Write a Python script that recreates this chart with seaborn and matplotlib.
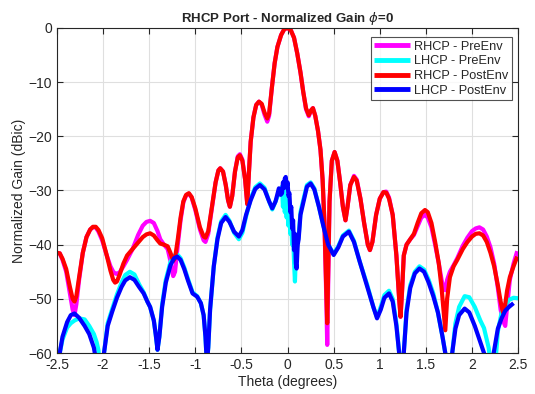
import numpy as np
import pandas as pd
import matplotlib
matplotlib.use("Agg")
import matplotlib.pyplot as plt
import seaborn as sns

# RHCP cuts (pre / post environment)
theta_rhcp = [-2.50, -2.47, -2.44, -2.40, -2.36, -2.33, -2.31, -2.29, -2.26, -2.22,
              -2.18, -2.14, -2.11, -2.08, -2.05, -2.01, -1.96, -1.92, -1.89, -1.87,
              -1.85, -1.82, -1.78, -1.74, -1.68, -1.62, -1.57, -1.53, -1.49, -1.45,
              -1.41, -1.38, -1.34, -1.30, -1.27, -1.24, -1.22, -1.19, -1.16, -1.13,
              -1.10, -1.07, -1.04, -1.00, -0.95, -0.91, -0.89, -0.86, -0.82, -0.78,
              -0.75, -0.73, -0.70, -0.67, -0.645, -0.625, -0.60, -0.57, -0.54, -0.517,
              -0.49, -0.46, -0.437, -0.42, -0.40, -0.37, -0.34, -0.31, -0.28, -0.25,
              -0.22, -0.20, -0.17, -0.14, -0.11, -0.07, -0.035, 0.00, 0.035, 0.07,
              0.105, 0.14, 0.17, 0.20, 0.23, 0.255, 0.275, 0.30, 0.33, 0.357,
              0.38, 0.40, 0.42, 0.43, 0.44, 0.455, 0.48, 0.51, 0.54, 0.57,
              0.60, 0.628, 0.65, 0.68, 0.72, 0.75, 0.79, 0.83, 0.87, 0.893,
              0.92, 0.96, 1.00, 1.04, 1.07, 1.10, 1.14, 1.18, 1.21, 1.225,
              1.24, 1.26, 1.29, 1.33, 1.37, 1.41, 1.45, 1.49, 1.52, 1.56,
              1.60, 1.64, 1.67, 1.69, 1.71, 1.73, 1.76, 1.80, 1.84, 1.90,
              1.95, 2.00, 2.04, 2.08, 2.12, 2.16, 2.20, 2.24, 2.28, 2.31,
              2.335, 2.36, 2.38, 2.41, 2.45, 2.49]
rhcp_post = [-41.5, -41.6, -42.6, -44.5, -47.8, -50.0, -50.5, -49.5, -46.0, -41.5,
             -38.6, -37.2, -36.7, -36.7, -37.3, -38.8, -42.0, -44.8, -46.5, -47.0,
             -46.8, -45.5, -43.5, -42.0, -40.8, -39.6, -38.6, -38.1, -37.9, -38.3,
             -39.2, -39.8, -40.0, -40.3, -41.5, -43.0, -42.5, -39.0, -35.0, -32.0,
             -30.8, -30.5, -31.2, -33.3, -36.8, -38.5, -38.7, -37.5, -33.0, -28.5,
             -26.3, -25.9, -26.5, -29.0, -31.8, -33.0, -31.0, -26.5, -23.9, -23.5,
             -24.5, -28.0, -32.5, -27.0, -21.0, -16.5, -14.2, -13.6, -14.0, -15.6,
             -16.7, -15.8, -11.0, -6.5, -3.5, -1.3, -0.2, 0.0, -0.4, -1.8,
             -4.7, -8.2, -11.8, -14.8, -16.1, -15.2, -14.8, -16.2, -19.0, -22.5,
             -28.0, -36.0, -48.0, -54.5, -45.0, -32.0, -24.5, -22.9, -24.5, -28.5,
             -33.0, -35.5, -33.0, -29.0, -27.5, -28.2, -31.5, -36.0, -40.0, -41.0,
             -39.5, -34.5, -31.5, -30.3, -30.4, -31.5, -34.5, -42.0, -50.0, -53.3,
             -49.0, -42.0, -40.0, -39.0, -38.0, -36.0, -34.2, -33.6, -34.0, -36.0,
             -39.5, -43.5, -48.0, -52.0, -55.8, -50.0, -46.0, -44.0, -42.8, -40.8,
             -39.5, -38.5, -38.0, -37.9, -38.3, -39.5, -41.5, -44.0, -47.5, -50.5,
             -52.5, -51.0, -48.5, -46.0, -44.0, -42.2]
rhcp_pre = [-41.5, -41.6, -42.8, -45.0, -49.0, -52.0, -53.0, -51.0, -46.5, -41.5,
            -38.6, -37.2, -36.8, -36.8, -37.6, -39.2, -42.0, -44.0, -45.0, -45.3,
            -45.4, -45.1, -44.0, -42.8, -40.8, -38.2, -36.5, -35.8, -35.6, -36.0,
            -37.5, -39.0, -40.0, -40.8, -43.0, -45.8, -45.0, -40.0, -35.5, -32.2,
            -30.9, -30.6, -31.3, -33.6, -37.2, -39.2, -39.5, -38.0, -33.3, -28.5,
            -26.3, -25.9, -26.5, -29.0, -31.8, -33.0, -31.0, -26.5, -23.7, -23.3,
            -24.3, -28.0, -32.5, -27.0, -21.0, -16.5, -14.2, -13.6, -14.2, -16.0,
            -17.3, -16.2, -11.0, -6.5, -3.5, -1.3, -0.2, 0.0, -0.4, -1.8,
            -4.7, -8.2, -11.8, -15.0, -16.3, -15.2, -14.8, -16.2, -19.0, -22.5,
            -28.0, -36.0, -50.0, -58.5, -48.0, -32.0, -24.5, -22.9, -24.5, -28.5,
            -33.0, -35.5, -33.0, -29.0, -27.3, -28.0, -31.5, -36.0, -40.0, -41.0,
            -39.5, -34.5, -31.5, -30.3, -30.2, -31.3, -34.5, -42.0, -50.0, -53.3,
            -49.0, -42.0, -40.0, -39.0, -38.2, -36.6, -35.0, -34.5, -35.0, -36.8,
            -40.0, -43.5, -46.5, -48.0, -48.4, -46.5, -45.0, -43.8, -42.5, -40.2,
            -38.7, -37.5, -37.0, -36.8, -37.2, -38.5, -40.5, -43.5, -48.0, -52.0,
            -54.0, -55.0, -51.5, -46.5, -43.5, -41.2]

# LHCP cuts (pre / post environment)
theta_lhcp = [-2.50, -2.47, -2.44, -2.39, -2.35, -2.31, -2.26, -2.20, -2.15, -2.10,
              -2.07, -2.05, -2.02, -1.99, -1.95, -1.90, -1.85, -1.80, -1.76, -1.71,
              -1.66, -1.61, -1.56, -1.52, -1.49, -1.45, -1.43, -1.41, -1.39, -1.36,
              -1.32, -1.27, -1.23, -1.195, -1.16, -1.12, -1.08, -1.03, -0.98, -0.94,
              -0.91, -0.89, -0.875, -0.86, -0.84, -0.80, -0.76, -0.72, -0.672, -0.63,
              -0.58, -0.528, -0.49, -0.45, -0.40, -0.35, -0.30, -0.25, -0.20, -0.166,
              -0.13, -0.094, -0.075, -0.06, -0.05, -0.04, -0.03, -0.02, -0.01, 0.00,
              0.01, 0.02, 0.03, 0.04, 0.05, 0.06, 0.07, 0.08, 0.09, 0.098,
              0.11, 0.12, 0.14, 0.16, 0.21, 0.25, 0.29, 0.34, 0.39, 0.44,
              0.50, 0.55, 0.60, 0.665, 0.72, 0.78, 0.865, 0.93, 0.97, 1.01,
              1.05, 1.10, 1.14, 1.18, 1.21, 1.235, 1.26, 1.29, 1.33, 1.38,
              1.43, 1.48, 1.53, 1.58, 1.63, 1.68, 1.71, 1.75, 1.785, 1.82,
              1.86, 1.92, 1.97, 2.03, 2.09, 2.13, 2.18, 2.235, 2.28, 2.32,
              2.36, 2.40, 2.45, 2.50]
lhcp_post = [-66.0, -60.0, -57.0, -54.3, -53.0, -52.7, -53.5, -55.0, -56.5, -59.0,
             -62.0, -66.0, -68.0, -60.0, -55.0, -52.3, -49.8, -47.8, -46.6, -46.0,
             -46.5, -47.8, -49.0, -50.5, -51.5, -54.0, -56.5, -59.4, -57.0, -51.5,
             -47.0, -43.8, -42.5, -42.2, -42.8, -44.5, -46.6, -49.0, -49.6, -50.8,
             -53.0, -57.0, -62.0, -59.0, -52.0, -44.0, -39.0, -36.0, -34.9, -35.8,
             -37.6, -38.5, -37.3, -34.5, -31.8, -29.7, -29.0, -29.8, -32.0, -33.3,
             -32.0, -29.6, -30.8, -30.5, -28.5, -29.5, -27.8, -27.5, -29.5, -28.5,
             -31.0, -30.5, -34.0, -33.0, -37.0, -35.5, -41.0, -38.0, -43.5, -44.4,
             -40.0, -39.0, -34.5, -33.0, -29.3, -28.7, -29.8, -33.0, -36.7, -40.0,
             -41.9, -40.5, -38.5, -37.6, -39.5, -43.0, -47.8, -51.5, -53.6, -52.0,
             -49.8, -49.0, -50.5, -55.0, -60.0, -66.0, -60.0, -52.5, -48.0, -45.3,
             -44.4, -45.0, -47.0, -49.5, -52.5, -57.0, -60.0, -66.0, -60.0, -55.5,
             -53.0, -51.8, -52.5, -55.0, -58.0, -60.0, -66.0, -60.0, -55.5, -53.6,
             -52.2, -51.5, -50.8, np.nan]
lhcp_pre = [-66.0, -60.0, -57.5, -55.3, -54.5, -54.0, -53.6, -53.8, -55.0, -56.5,
            -58.0, -59.5, -66.0, -60.0, -54.5, -51.8, -49.2, -47.0, -45.6, -45.0,
            -45.5, -47.3, -48.8, -50.5, -51.5, -54.0, -56.5, -59.4, -57.0, -51.0,
            -46.5, -43.2, -42.0, -41.8, -42.5, -44.2, -46.3, -48.8, -49.5, -50.8,
            -53.0, -57.0, -62.0, -59.0, -52.0, -44.0, -38.7, -35.7, -34.5, -35.6,
            -37.8, -39.0, -37.8, -34.8, -31.5, -29.4, -28.7, -29.5, -32.0, -33.5,
            -32.0, -30.5, -30.0, -29.3, -33.0, -30.0, -34.0, -31.0, -35.0, -32.0,
            -36.5, -34.0, -38.0, -36.0, -40.0, -38.0, -43.0, -46.8, -42.0, -41.0,
            -39.5, -38.5, -34.0, -32.5, -29.0, -28.5, -29.6, -33.0, -36.5, -40.0,
            -41.7, -40.3, -38.3, -37.4, -39.3, -43.0, -47.5, -51.5, -53.4, -51.5,
            -49.3, -48.5, -50.0, -54.5, -60.0, -66.0, -60.0, -52.0, -47.5, -45.0,
            -44.0, -44.6, -46.5, -49.0, -52.5, -57.0, -60.0, -66.0, -60.0, -54.5,
            -51.5, -49.5, -49.7, -51.5, -54.0, -55.4, -59.0, -66.0, -56.0, -52.6,
            -51.2, -50.2, -49.8, -49.9]

series_names = ["RHCP - PreEnv", "LHCP - PreEnv", "RHCP - PostEnv", "LHCP - PostEnv"]
series_colors = ["#ff00ff", "#00ffff", "#ff0000", "#0000ff"]

frames = [
    pd.DataFrame({"theta": theta_rhcp, "gain": rhcp_pre, "cut": series_names[0]}),
    pd.DataFrame({"theta": theta_lhcp, "gain": lhcp_pre, "cut": series_names[1]}),
    pd.DataFrame({"theta": theta_rhcp, "gain": rhcp_post, "cut": series_names[2]}),
    pd.DataFrame({"theta": theta_lhcp, "gain": lhcp_post, "cut": series_names[3]}),
]
df = pd.concat(frames, ignore_index=True)

sns.set_style("whitegrid")
plt.rcParams["font.family"] = ["Liberation Sans", "DejaVu Sans"]
plt.rcParams["mathtext.fontset"] = "dejavusans"

fig = plt.figure(figsize=(5.35, 3.94), dpi=100)
ax = fig.add_axes([0.1065, 0.104, 0.862, 0.825])

for name, color in zip(series_names, series_colors):
    sub = df[df["cut"] == name]
    sns.lineplot(data=sub, x="theta", y="gain", ax=ax, color=color, lw=3,
                 sort=False, estimator=None, label=name,
                 solid_joinstyle="round", solid_capstyle="butt")

ax.set_xlim(-2.5, 2.5)
ax.set_ylim(-60, 0)
ax.set_xticks(np.arange(-2.5, 2.51, 0.5))
ax.set_xticklabels(["-2.5", "-2", "-1.5", "-1", "-0.5", "0", "0.5", "1", "1.5", "2", "2.5"])
ax.set_yticks(np.arange(-60, 1, 10))
ax.tick_params(direction="in", length=4, labelsize=10, colors="#262626",
               top=True, right=True, bottom=True, left=True)
ax.grid(True, color="#dfdfdf", lw=0.8)
for sp in ax.spines.values():
    sp.set_color("#262626")
    sp.set_linewidth(0.8)

ax.set_xlabel("Theta (degrees)", fontsize=10, color="#262626", labelpad=2)
ax.set_ylabel("Normalized Gain (dBic)", fontsize=10, color="#262626", labelpad=2)
ax.set_title(r"RHCP Port - Normalized Gain $\phi$=0", fontsize=9.5, fontweight="bold",
             pad=4)

leg = ax.legend(loc="upper right", bbox_to_anchor=(0.987, 0.972), borderaxespad=0,
                fontsize=9.2, frameon=True, fancybox=False, handlelength=2.8,
                handletextpad=0.3, labelspacing=0.2, borderpad=0.3)
leg.get_frame().set_edgecolor("#262626")
leg.get_frame().set_linewidth(0.8)
for line in leg.get_lines():
    line.set_linewidth(3.5)

fig.savefig("out.png", dpi=100)
